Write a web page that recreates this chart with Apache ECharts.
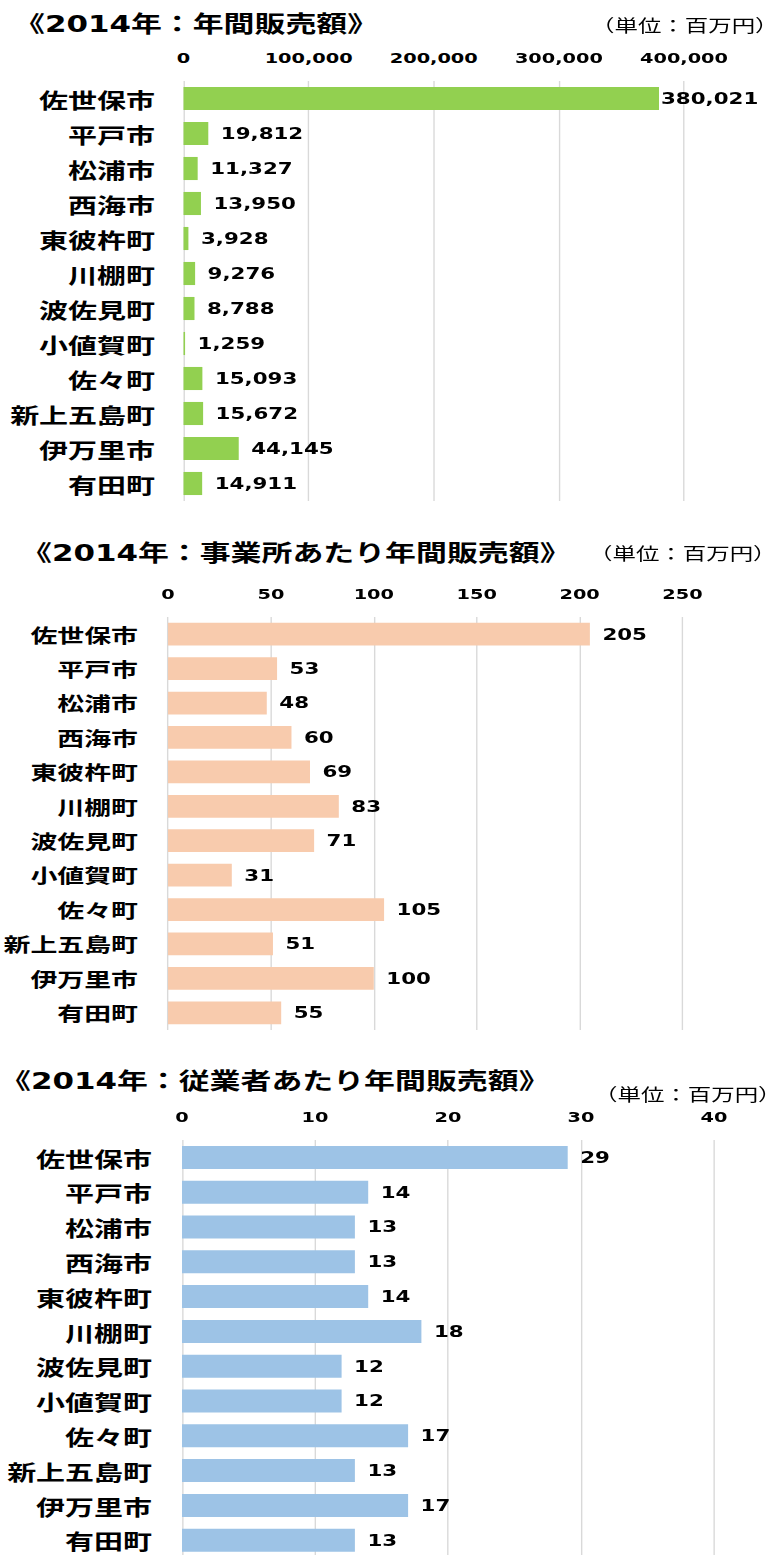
<!DOCTYPE html>
<html lang="ja">
<head>
<meta charset="utf-8">
<title>2014年 年間販売額</title>
<script src="https://cdn.jsdelivr.net/npm/echarts@6/dist/echarts.min.js"></script>
<style>
  html, body { margin: 0; padding: 0; background: #fff; width: 782px; height: 1555px; overflow: hidden; }
  #wrap { position: relative; width: 782px; height: 1555px; overflow: hidden; }
  #chart { position: absolute; left: 0; top: 0; height: 1555px; transform-origin: 0 0; }
</style>
</head>
<body>
<div id="wrap"><div id="chart"></div></div>
<script>
// ---- data ----
const categories = ['佐世保市', '平戸市', '松浦市', '西海市', '東彼杵町', '川棚町',
  '波佐見町', '小値賀町', '佐々町', '新上五島町', '伊万里市', '有田町'];
// 年間販売額（百万円）
const salesTotal = [380021, 19812, 11327, 13950, 3928, 9276, 8788, 1259, 15093, 15672, 44145, 14911];
// 事業所あたり年間販売額（百万円）
const salesPerEstablishment = [205, 53, 48, 60, 69, 83, 71, 31, 105, 51, 100, 55];
// 従業者あたり年間販売額（百万円）
const salesPerEmployee = [29, 14, 13, 13, 14, 18, 12, 12, 17, 13, 17, 13];

const panelTitles = ['《2014年：年間販売額》', '《2014年：事業所あたり年間販売額》', '《2014年：従業者あたり年間販売額》'];
const unitLabel = '（単位：百万円）';
const axisMax = [400000, 250, 40];
const axisInterval = [100000, 50, 10];

// ---- layout & style ----
const SX = 1.38;              // horizontal stretch of the whole drawing
const PAGE_W = 782, PAGE_H = 1555;
const W = PAGE_W / SX;        // drawing width before stretch

const barColors = ['#92d050', '#f8cbad', '#9dc3e6'];
const panels = [
  { x0: 183.5, x1: 684,   top: 81,   height: 420,   titleX: 14, titleY: 24,   unitX: 591, unitY: 25,   labelGap: 28.5, catFont: 21 },
  { x0: 168,   x1: 682.5, top: 617,  height: 413,   titleX: 21, titleY: 553,  unitX: 589, unitY: 553,  labelGap: 30,   catFont: 19.5 },
  { x0: 182,   x1: 714,   top: 1140, height: 417.6, titleX: 0,  titleY: 1081, unitX: 594, unitY: 1094, labelGap: 30,   catFont: 21 }
];
const seriesData = [salesTotal, salesPerEstablishment, salesPerEmployee];

const CJK = '"Noto Sans CJK JP", "Noto Sans CJK SC", sans-serif';
const NUM = '"DejaVu Sans", "Noto Sans CJK JP", sans-serif';
const fmt = v => Number(v).toLocaleString('en-US');

const el = document.getElementById('chart');
el.style.width = W + 'px';
el.style.transform = 'scaleX(' + SX + ')';

const grid = [], xAxis = [], yAxis = [], series = [], graphic = [];

panels.forEach((p, i) => {
  grid.push({
    left: p.x0 / SX,
    width: (p.x1 - p.x0) / SX,
    top: p.top,
    height: p.height,
    containLabel: false,
    outerBoundsMode: 'none'
  });
  xAxis.push({
    type: 'value',
    gridIndex: i,
    position: 'top',
    min: 0,
    max: axisMax[i],
    interval: axisInterval[i],
    axisLine: { show: false },
    axisTick: { show: false },
    splitLine: { show: true, lineStyle: { color: '#d9d9d9', width: 1 } },
    axisLabel: {
      margin: 16,
      color: '#000',
      fontFamily: NUM,
      fontWeight: 'bold',
      fontSize: 14,
      formatter: fmt
    }
  });
  yAxis.push({
    type: 'category',
    gridIndex: i,
    data: categories,
    inverse: true,
    axisLine: { show: false },
    axisTick: { show: false },
    splitLine: { show: false },
    axisLabel: {
      margin: p.labelGap / SX,
      color: '#000',
      fontFamily: CJK,
      fontWeight: 'bold',
      fontSize: p.catFont
    }
  });
  series.push({
    type: 'bar',
    xAxisIndex: i,
    yAxisIndex: i,
    barCategoryGap: '34%',
    itemStyle: { color: barColors[i] },
    label: {
      show: true,
      position: 'right',
      distance: 12.5 / SX,
      color: '#000',
      fontFamily: NUM,
      fontWeight: 'bold',
      fontSize: 15.5,
      formatter: pr => fmt(pr.value)
    },
    data: seriesData[i].map((v, k) =>
      (i === 0 && k === 0) ? { value: v, label: { distance: 2 / SX } } : v)
  });
  graphic.push({
    type: 'text',
    x: p.titleX / SX,
    y: p.titleY,
    style: {
      text: panelTitles[i],
      fill: '#000',
      font: 'bold 22.4px ' + NUM,
      align: 'left', verticalAlign: 'middle',
      textAlign: 'left', textVerticalAlign: 'middle'
    }
  });
  graphic.push({
    type: 'text',
    x: p.unitX / SX,
    y: p.unitY,
    style: {
      text: unitLabel,
      fill: '#000',
      font: 'normal 17px ' + CJK,
      align: 'left', verticalAlign: 'middle',
      textAlign: 'left', textVerticalAlign: 'middle'
    }
  });
});

const chart = echarts.init(el, null, { renderer: 'svg', width: W, height: PAGE_H });
chart.setOption({
  animation: false,
  backgroundColor: '#fff',
  grid, xAxis, yAxis, series, graphic
});
</script>
</body>
</html>
